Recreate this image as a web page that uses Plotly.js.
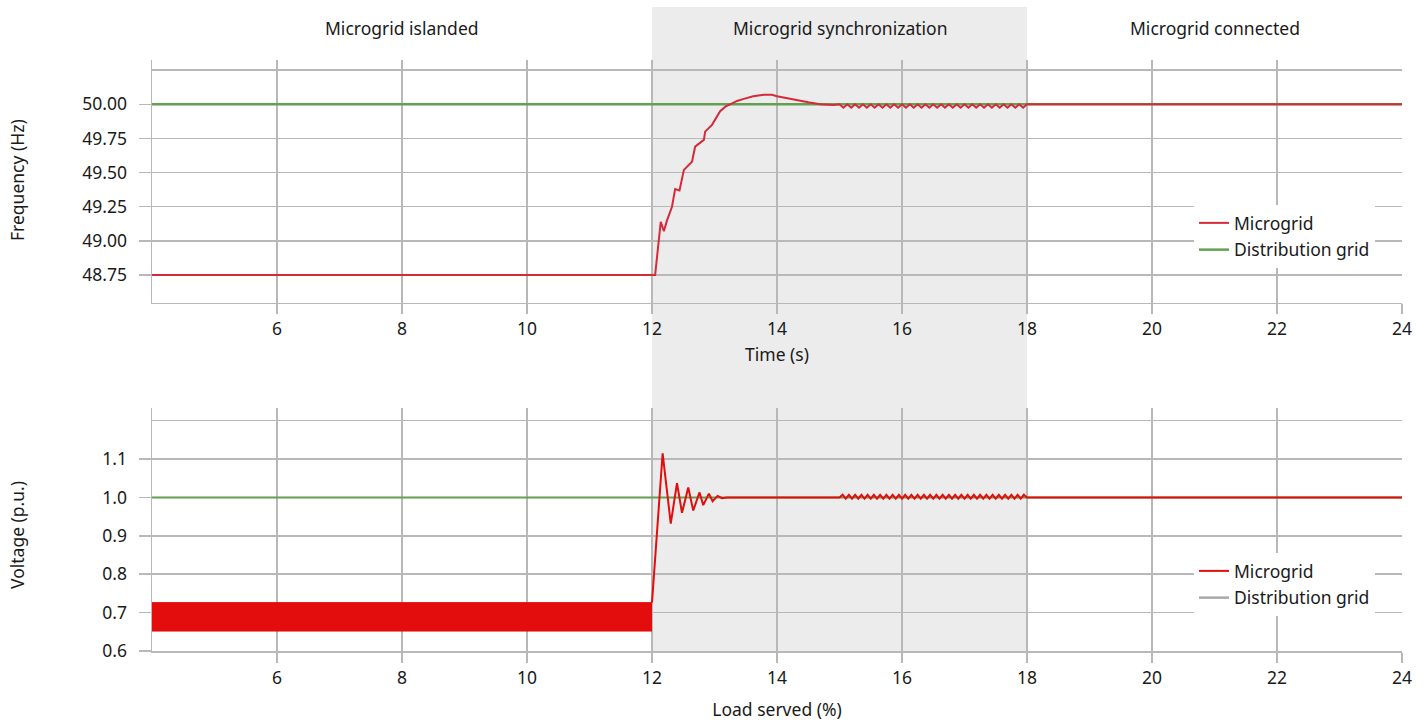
<!DOCTYPE html>
<html>
<head>
<meta charset="utf-8">
<script src="https://cdn.plot.ly/plotly-3.0.1.min.js"></script>
<style>html,body{margin:0;padding:0;background:#fff;}#chart{width:1425px;height:723px;}</style>
</head>
<body>
<div id="chart"></div>
<script>
// ---------- data ----------
const xTickVals = [6, 8, 10, 12, 14, 16, 18, 20, 22, 24];
const freqTickVals = [48.75, 49.00, 49.25, 49.50, 49.75, 50.00];
const voltTickVals = [0.6, 0.7, 0.8, 0.9, 1.0, 1.1];
const freqExtraGrid = [50.25];
const voltExtraGrid = [1.2];

const sectionLabels = ['Microgrid islanded', 'Microgrid synchronization', 'Microgrid connected'];
const sectionCenters = [8, 15, 21];
const syncPhase = [12, 18];

// distribution grid (reference)
const gridTime = [4, 24];
const gridFreq = [50.00, 50.00];
const gridVolt = [1.00, 1.00];

// microgrid frequency: islanded, resync transient, ripple, connected
const freqRiseTime = [4.00, 12.05, 12.14, 12.19, 12.24, 12.32, 12.37, 12.44, 12.51, 12.64, 12.69, 12.83, 12.85, 12.96, 13.09, 13.18, 13.25, 13.36, 13.47, 13.62, 13.79, 13.92, 14.00, 14.15, 14.32, 14.50, 14.69, 14.90];
const freqRiseValue = [48.75, 48.75, 49.14, 49.07, 49.15, 49.25, 49.38, 49.37, 49.52, 49.58, 49.69, 49.74, 49.80, 49.85, 49.95, 49.985, 50.00, 50.025, 50.04, 50.06, 50.07, 50.07, 50.06, 50.045, 50.03, 50.015, 50.00, 49.995];
const freqRippleTime = [15.0000, 15.0625, 15.1250, 15.1875, 15.2500, 15.3125, 15.3750, 15.4375, 15.5000, 15.5625, 15.6250, 15.6875, 15.7500, 15.8125, 15.8750, 15.9375, 16.0000, 16.0625, 16.1250, 16.1875, 16.2500, 16.3125, 16.3750, 16.4375, 16.5000, 16.5625, 16.6250, 16.6875, 16.7500, 16.8125, 16.8750, 16.9375, 17.0000, 17.0625, 17.1250, 17.1875, 17.2500, 17.3125, 17.3750, 17.4375, 17.5000, 17.5625, 17.6250, 17.6875, 17.7500, 17.8125, 17.8750, 17.9375, 18.0000];
const freqRippleValue = [50.000, 49.975, 50.000, 49.975, 50.000, 49.975, 50.000, 49.975, 50.000, 49.975, 50.000, 49.975, 50.000, 49.975, 50.000, 49.975, 50.000, 49.975, 50.000, 49.975, 50.000, 49.975, 50.000, 49.975, 50.000, 49.975, 50.000, 49.975, 50.000, 49.975, 50.000, 49.975, 50.000, 49.975, 50.000, 49.975, 50.000, 49.975, 50.000, 49.975, 50.000, 49.975, 50.000, 49.975, 50.000, 49.975, 50.000, 49.975, 50.000];
const freqConnectedTime = [24.0];
const freqConnectedValue = [50.00];

// microgrid voltage: islanded band (min/max envelope), transient, ripple, connected
const voltBandTime = [4, 12];
const voltBandLow = [0.652, 0.652];
const voltBandHigh = [0.726, 0.726];
const voltRiseTime = [12.00, 12.17, 12.30, 12.40, 12.48, 12.58, 12.66, 12.76, 12.82, 12.91, 12.97, 13.05, 13.12, 13.20];
const voltRiseValue = [0.726, 1.115, 0.932, 1.037, 0.960, 1.026, 0.966, 1.013, 0.980, 1.010, 0.990, 1.004, 0.998, 1.000];
const voltRippleTime = [15.00, 15.05, 15.10, 15.15, 15.20, 15.25, 15.30, 15.35, 15.40, 15.45, 15.50, 15.55, 15.60, 15.65, 15.70, 15.75, 15.80, 15.85, 15.90, 15.95, 16.00, 16.05, 16.10, 16.15, 16.20, 16.25, 16.30, 16.35, 16.40, 16.45, 16.50, 16.55, 16.60, 16.65, 16.70, 16.75, 16.80, 16.85, 16.90, 16.95, 17.00, 17.05, 17.10, 17.15, 17.20, 17.25, 17.30, 17.35, 17.40, 17.45, 17.50, 17.55, 17.60, 17.65, 17.70, 17.75, 17.80, 17.85, 17.90, 17.95, 18.00];
const voltRippleValue = [1.000, 1.007, 0.997, 1.007, 0.997, 1.007, 0.997, 1.007, 0.997, 1.007, 0.997, 1.007, 0.997, 1.007, 0.997, 1.007, 0.997, 1.007, 0.997, 1.007, 0.997, 1.007, 0.997, 1.007, 0.997, 1.007, 0.997, 1.007, 0.997, 1.007, 0.997, 1.007, 0.997, 1.007, 0.997, 1.007, 0.997, 1.007, 0.997, 1.007, 0.997, 1.007, 0.997, 1.007, 0.997, 1.007, 0.997, 1.007, 0.997, 1.007, 0.997, 1.007, 0.997, 1.007, 0.997, 1.007, 0.997, 1.007, 0.997, 1.007, 1.000];
const voltConnectedTime = [24.0];
const voltConnectedValue = [1.000];

// ---------- styles ----------
const FONT = '"Noto Sans", "Open Sans", sans-serif';
const FS = 17.5;
const TXT = '#1a1a1a';
const GRID = '#b8b8b8';
const RED_F = '#d62a3a';
const RED_V = '#e30d0d';
const GREEN = '#62a052';
const LEG_GRAY = '#a8a8a8';

const freqTime = freqRiseTime.concat(freqRippleTime, freqConnectedTime);
const freqValue = freqRiseValue.concat(freqRippleValue, freqConnectedValue);
const voltTime = voltRiseTime.concat(voltRippleTime, voltConnectedTime);
const voltValue = voltRiseValue.concat(voltRippleValue, voltConnectedValue);

const traces = [
  {x: gridTime, y: gridFreq, xaxis: 'x', yaxis: 'y', mode: 'lines', name: 'Distribution grid',
   line: {color: GREEN, width: 2.5}, legend: 'legend', legendrank: 2, legendgroup: 'g1'},
  {x: freqTime, y: freqValue, xaxis: 'x', yaxis: 'y', mode: 'lines', name: 'Microgrid',
   line: {color: RED_F, width: 2, shape: 'linear'}, legend: 'legend', legendrank: 1, legendgroup: 'm1'},

  {x: gridTime, y: gridVolt, xaxis: 'x2', yaxis: 'y2', mode: 'lines', name: 'Distribution grid',
   line: {color: GREEN, width: 2}, showlegend: false},
  {x: voltBandTime, y: voltBandLow, xaxis: 'x2', yaxis: 'y2', mode: 'lines', showlegend: false,
   line: {color: RED_V, width: 1}, hoverinfo: 'skip'},
  {x: voltBandTime, y: voltBandHigh, xaxis: 'x2', yaxis: 'y2', mode: 'lines', showlegend: false,
   fill: 'tonexty', fillcolor: RED_V, line: {color: RED_V, width: 1}, hoverinfo: 'skip'},
  {x: voltTime, y: voltValue, xaxis: 'x2', yaxis: 'y2', mode: 'lines', name: 'Microgrid',
   line: {color: RED_V, width: 2}, legend: 'legend2', legendrank: 1, legendgroup: 'm2'},
  {x: [null], y: [null], xaxis: 'x2', yaxis: 'y2', mode: 'lines', name: 'Distribution grid',
   line: {color: LEG_GRAY, width: 2.5}, legend: 'legend2', legendrank: 2, legendgroup: 'g2'}
];

const xAxisCommon = {
  range: [4, 24], tickmode: 'array', tickvals: xTickVals,
  ticks: 'outside', ticklen: 10, tickcolor: GRID, tickwidth: 1.5,
  showgrid: true, gridcolor: GRID, gridwidth: 1.5,
  showline: true, linecolor: GRID, linewidth: 1.5,
  zeroline: false, automargin: false,
  tickfont: {family: FONT, size: FS, color: TXT}
};
const yAxisCommon = {
  tickmode: 'array', ticks: 'outside', ticklen: 12, tickcolor: GRID, tickwidth: 1.5,
  ticklabelstandoff: 8,
  showgrid: true, gridcolor: GRID, gridwidth: 1.5,
  showline: true, linecolor: GRID, linewidth: 1.5,
  zeroline: false, automargin: false,
  tickfont: {family: FONT, size: FS, color: TXT}
};

const PT = 60, PB = 72, H = 723;
const ph = H - PT - PB;

const legendCommon = {
  x: (1194 - 152) / 1250, xanchor: 'left', yanchor: 'top',
  bgcolor: '#ffffff', borderwidth: 0, font: {family: FONT, size: FS, color: TXT},
  traceorder: 'grouped', tracegroupgap: 1
};

const layout = {
  width: 1425, height: 723,
  margin: {l: 152, r: 23, t: PT, b: PB},
  paper_bgcolor: '#ffffff', plot_bgcolor: 'rgba(0,0,0,0)',
  font: {family: FONT, size: FS, color: TXT},
  showlegend: true,
  xaxis: Object.assign({}, xAxisCommon, {anchor: 'y',
    title: {text: 'Time (s)', standoff: 9, font: {family: FONT, size: FS, color: TXT}}}),
  yaxis: Object.assign({}, yAxisCommon, {anchor: 'x', domain: [(651 - 302.7) / ph, 1],
    range: [48.547, 50.325], tickvals: freqTickVals, tickformat: '.2f',
    minor: {tickmode: 'array', tickvals: freqExtraGrid, showgrid: true, gridcolor: GRID, gridwidth: 1.5, ticks: ''}}),
  xaxis2: Object.assign({}, xAxisCommon, {anchor: 'y2',
    title: {text: 'Load served (%)', standoff: 16, font: {family: FONT, size: FS, color: TXT}}}),
  yaxis2: Object.assign({}, yAxisCommon, {anchor: 'x2', domain: [0, (651 - 408) / ph],
    range: [0.6, 1.233], tickvals: voltTickVals, tickformat: '.1f',
    minor: {tickmode: 'array', tickvals: voltExtraGrid, showgrid: true, gridcolor: GRID, gridwidth: 1.5, ticks: ''}}),
  legend: Object.assign({}, legendCommon, {y: (651 - 205) / ph}),
  legend2: Object.assign({}, legendCommon, {y: (651 - 553) / ph}),
  shapes: [
    {type: 'rect', layer: 'below', xref: 'paper', yref: 'paper',
     x0: (syncPhase[0] - 4) / 20, x1: (syncPhase[1] - 4) / 20,
     y0: 0, y1: (651 - 7) / ph,
     fillcolor: '#ececec', line: {width: 0}}
  ],
  annotations: sectionLabels.map((t, i) => ({
    text: t, xref: 'x', yref: 'paper', x: sectionCenters[i], y: (651 - 28) / ph,
    xanchor: 'center', yanchor: 'middle', showarrow: false,
    font: {family: FONT, size: FS, color: TXT}
  })).concat([
    {text: 'Frequency (Hz)', textangle: -90, xref: 'paper', yref: 'paper',
     x: (17 - 152) / 1250, y: (651 - 180) / ph, xanchor: 'center', yanchor: 'middle',
     showarrow: false, font: {family: FONT, size: FS, color: TXT}},
    {text: 'Voltage (p.u.)', textangle: -90, xref: 'paper', yref: 'paper',
     x: (17 - 152) / 1250, y: (651 - 535) / ph, xanchor: 'center', yanchor: 'middle',
     showarrow: false, font: {family: FONT, size: FS, color: TXT}}
  ])
};

Plotly.newPlot('chart', traces, layout, {displayModeBar: false, staticPlot: true});
</script>
</body>
</html>
